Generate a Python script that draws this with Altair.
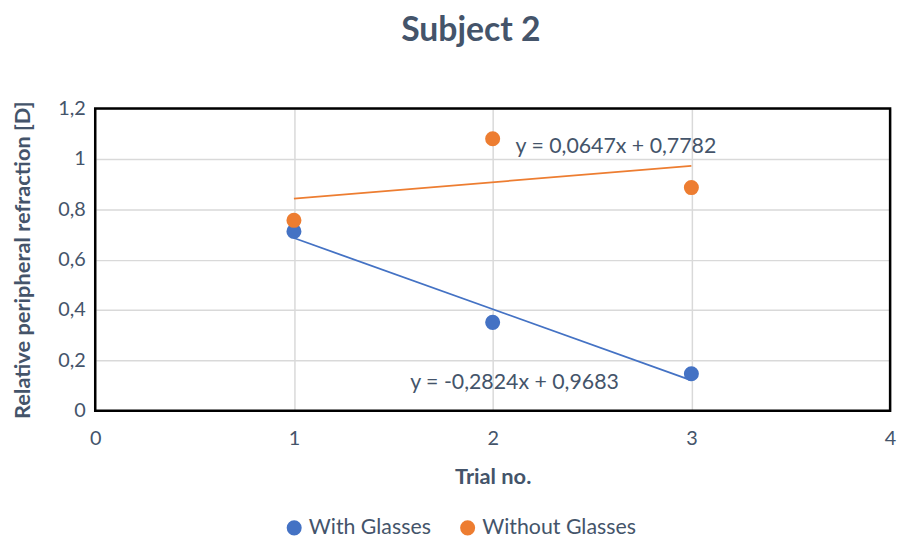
import altair as alt
import pandas as pd

trials = [1, 2, 3]
with_glasses = [0.712, 0.351, 0.147]
without_glasses = [0.756, 1.080, 0.886]
series_names = ["With Glasses", "Without Glasses"]
colors = ["#4472C4", "#ED7D31"]
eq_text = ["y = -0,2824x + 0,9683", "y = 0,0647x + 0,7782"]
eq_x = [2.11, 2.62]
eq_y = [0.112, 1.045]
x_ticks = [0, 1, 2, 3, 4]
y_ticks = [0, 0.2, 0.4, 0.6, 0.8, 1.0, 1.2]

rows = []
for t, a, b in zip(trials, with_glasses, without_glasses):
    rows.append({"Trial": t, "Value": a, "Series": series_names[0]})
    rows.append({"Trial": t, "Value": b, "Series": series_names[1]})
df = pd.DataFrame(rows)
eq_df = pd.DataFrame({"x": eq_x, "y": eq_y, "text": eq_text})
frame_df = pd.DataFrame({"x": [x_ticks[0]], "x2": [x_ticks[-1]],
                         "y": [y_ticks[0]], "y2": [y_ticks[-1]]})

FONT = "Lato"
TXT = "#44546A"

xscale = alt.Scale(domain=[x_ticks[0], x_ticks[-1]], nice=False, zero=False)
yscale = alt.Scale(domain=[y_ticks[0], y_ticks[-1]], nice=False)
legend = alt.Legend(title=None, orient="none", direction="horizontal",
                    legendX=190, legendY=412, symbolType="circle",
                    symbolSize=230, labelFontSize=21.5, labelFont=FONT,
                    labelColor=TXT, columnPadding=26, symbolStrokeWidth=0,
                    labelOffset=4)
color = alt.Color("Series:N", scale=alt.Scale(domain=series_names, range=colors),
                  legend=legend)

base = alt.Chart(df)

points = base.mark_circle(size=230, opacity=1).encode(
    x=alt.X("Trial:Q", scale=xscale,
            axis=alt.Axis(title="Trial no.", values=x_ticks, format="d",
                          labelFlush=False, labelOverlap=False,
                          labelFontSize=20, labelPadding=18, titlePadding=18,
                          titleFontSize=22, tickSize=0, domain=False, labelFont=FONT,
                          titleFont=FONT, labelColor=TXT, titleColor=TXT,
                          gridColor="#D9D9D9", gridWidth=1.5)),
    y=alt.Y("Value:Q", scale=yscale,
            axis=alt.Axis(title="Relative peripheral refraction [D]",
                          values=y_ticks, labelFlush=False, labelOverlap=False,
                          labelExpr="replace(format(datum.value, ''), '.', ',')",
                          labelFontSize=20, labelPadding=10, titlePadding=24,
                          titleFontSize=22, tickSize=0, domain=False, labelFont=FONT,
                          titleFont=FONT, labelColor=TXT, titleColor=TXT,
                          gridColor="#D9D9D9", gridWidth=1.5)),
    color=color,
)

trend = base.transform_regression(
    "Trial", "Value", groupby=["Series"], extent=[1, 3]
).mark_line(strokeWidth=1.8).encode(
    x=alt.X("Trial:Q", scale=xscale),
    y=alt.Y("Value:Q", scale=yscale),
    color=color,
)

labels = alt.Chart(eq_df).mark_text(fontSize=21.5, font=FONT, color=TXT).encode(
    x=alt.X("x:Q", scale=xscale),
    y=alt.Y("y:Q", scale=yscale),
    text="text:N",
)

frame = alt.Chart(frame_df).mark_rect(fill=None, stroke="black", strokeWidth=2.5,
                                      fillOpacity=0).encode(
    x=alt.X("x:Q", scale=xscale),
    x2="x2:Q",
    y=alt.Y("y:Q", scale=yscale),
    y2="y2:Q",
)

chart = alt.layer(frame, trend, points, labels).properties(
    width=802, height=305,
    title=alt.Title("Subject 2", fontSize=34, font=FONT, fontWeight="bold", color=TXT,
                    anchor="middle", offset=51, dx=-22),
    autosize=alt.AutoSizeParams(type="none"),
    padding={"left": 88, "top": 99, "right": 12, "bottom": 130},
).configure(background="white").configure_view(stroke=None)

chart.save("out.html", embed_options={"renderer": "svg", "actions": False})
